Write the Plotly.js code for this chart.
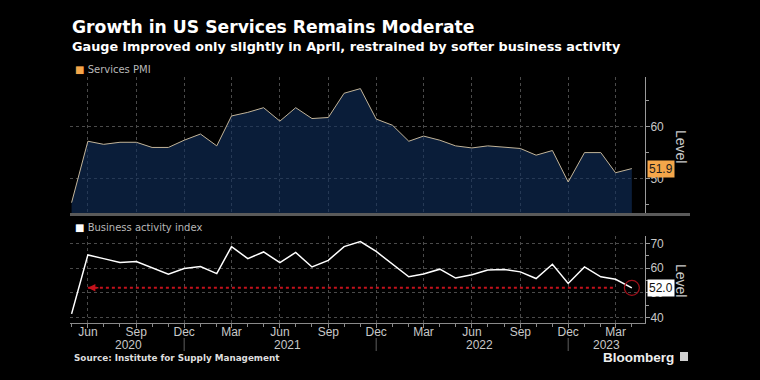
<!DOCTYPE html>
<html>
<head>
<meta charset="utf-8">
<script src="https://cdn.plot.ly/plotly-3.0.1.min.js"></script>
<style>
html,body{margin:0;padding:0;background:#000;}
#chart{width:760px;height:380px;}
</style>
</head>
<body>
<div id="chart"></div>
<script>
// ---- data ----
const months = [
  '2020-05-01','2020-06-01','2020-07-01','2020-08-01','2020-09-01','2020-10-01','2020-11-01','2020-12-01',
  '2021-01-01','2021-02-01','2021-03-01','2021-04-01','2021-05-01','2021-06-01','2021-07-01','2021-08-01',
  '2021-09-01','2021-10-01','2021-11-01','2021-12-01',
  '2022-01-01','2022-02-01','2022-03-01','2022-04-01','2022-05-01','2022-06-01','2022-07-01','2022-08-01',
  '2022-09-01','2022-10-01','2022-11-01','2022-12-01',
  '2023-01-01','2023-02-01','2023-03-01','2023-04-01'
];
const servicesPMI = [
  45.3, 57.2, 56.6, 57.0, 57.0, 56.0, 56.0, 57.4,
  58.6, 56.3, 62.1, 62.8, 63.7, 61.1, 63.7, 61.6, 61.8, 66.5, 67.4, 61.5,
  60.3, 57.2, 58.2, 57.4, 56.3, 55.9, 56.3, 56.0, 55.8, 54.5, 55.4, 49.3,
  55.0, 55.0, 51.1, 51.9
];
const businessActivity = [
  41.4, 65.4, 63.9, 62.3, 62.7, 60.3, 57.6, 59.9,
  60.7, 57.8, 68.8, 63.9, 66.6, 62.3, 66.4, 60.5, 63.2, 68.8, 70.8, 66.8,
  61.6, 56.5, 57.6, 59.6, 56.0, 57.3, 59.3, 59.5, 58.5, 55.8, 61.6, 53.8,
  60.5, 56.5, 55.5, 52.0
];
const yearLabels = ['2020','2021','2022','2023'];
const yearMids = ['2020-08-17','2021-06-16','2022-06-16','2023-02-12'];
const yearBreaks = ['2020-12-01','2021-12-01','2022-12-01'];
const seriesNames = ['Services PMI','Business activity index'];

// ---- layout helpers (pixel geometry) ----
const W = 760, H = 380, L = 70, R = 115, T = 77, B = 57;
const PH = H - T - B, PW = W - L - R;
const py = p => (H - B - p) / PH;      // pixel y -> paper y
const px = p => (p - L) / PW;          // pixel x -> paper x

const lastPMI = servicesPMI[servicesPMI.length - 1];
const lastBA = businessActivity[businessActivity.length - 1];
const n = months.length;

const grid = '#4a4a4a';
const tickFont = {family: 'Liberation Sans, Arial, sans-serif', size: 12, color: '#c8c8c8'};

const traces = [
  { // Services PMI area (top)
    x: months, y: servicesPMI, xaxis: 'x2', yaxis: 'y2', type: 'scatter', mode: 'lines',
    fill: 'tozeroy', fillcolor: 'rgba(16,46,92,0.62)',
    line: {color: '#c2b499', width: 1}, hoverinfo: 'skip', showlegend: false
  },
  { // Business activity (bottom)
    x: months, y: businessActivity, xaxis: 'x', yaxis: 'y', type: 'scatter', mode: 'lines',
    line: {color: '#ffffff', width: 1.5}, hoverinfo: 'skip', showlegend: false
  },
  { // red dotted reference line at latest value
    x: [months[1], months[n - 2]], y: [lastBA, lastBA], xaxis: 'x', yaxis: 'y',
    type: 'scatter', mode: 'lines', line: {color: '#c4121c', width: 2, dash: 'dot'},
    hoverinfo: 'skip', showlegend: false
  },
  { // circle on last point
    x: [months[n - 1]], y: [lastBA], xaxis: 'x', yaxis: 'y', type: 'scatter', mode: 'markers',
    marker: {symbol: 'circle-open', size: 15, color: '#a0101a', line: {width: 1.2, color: '#a0101a'}},
    hoverinfo: 'skip', showlegend: false
  }
];

const xRange = ['2020-04-28', '2023-04-26'];
const xCommon = {
  type: 'date', range: xRange, tick0: '2020-06-01', dtick: 'M3', tickformat: '%b',
  showgrid: true, gridcolor: grid, griddash: 'dot', gridwidth: 1, zeroline: false,
  tickfont: tickFont, fixedrange: true
};

const layout = {
  width: W, height: H,
  margin: {l: L, r: R, t: T, b: B},
  paper_bgcolor: '#000', plot_bgcolor: '#000',
  showlegend: false,
  xaxis: Object.assign({}, xCommon, {
    anchor: 'y', showline: true, linecolor: '#8a8a8a', linewidth: 1,
    ticks: 'outside', ticklen: 4, tickcolor: '#8a8a8a', ticklabelstandoff: -6,
    minor: {dtick: 'M1', ticks: 'outside', ticklen: 3, tickcolor: '#8a8a8a', showgrid: false}
  }),
  xaxis2: Object.assign({}, xCommon, {
    anchor: 'y2', matches: 'x', showticklabels: false, ticks: '', showline: false
  }),
  yaxis: {
    domain: [0, py(236)], range: [37.7, 73.1], side: 'right', dtick: 10, tick0: 0,
    showgrid: true, gridcolor: grid, griddash: 'dot', zeroline: false,
    showline: true, linecolor: '#9a9a9a', ticks: 'outside', ticklen: 4, tickcolor: '#9a9a9a',
    ticklabelstandoff: -2,
    minor: {dtick: 5, ticks: 'outside', ticklen: 3, tickcolor: '#9a9a9a', showgrid: false},
    tickfont: tickFont, fixedrange: true
  },
  yaxis2: {
    domain: [py(214), 1], range: [43.1, 69.65], side: 'right', dtick: 10, tick0: 0,
    showgrid: true, gridcolor: grid, griddash: 'dot', zeroline: false,
    showline: true, linecolor: '#9a9a9a', ticks: 'outside', ticklen: 4, tickcolor: '#9a9a9a',
    ticklabelstandoff: -2,
    minor: {dtick: 5, ticks: 'outside', ticklen: 3, tickcolor: '#9a9a9a', showgrid: false},
    tickfont: tickFont, fixedrange: true
  },
  shapes: [
    // separator line under top panel
    {type: 'line', xref: 'paper', yref: 'paper', x0: 0, x1: px(690), y0: py(214.5), y1: py(214.5),
     line: {color: '#5a5a5a', width: 3}},
    // Bloomberg logo square
    {type: 'rect', xref: 'paper', yref: 'paper', x0: px(680), x1: px(688), y0: py(361), y1: py(352),
     fillcolor: '#d0d0d0', line: {width: 0}}
  ].concat(yearBreaks.map(d => ({
    type: 'line', xref: 'x', yref: 'paper', x0: d, x1: d, y0: py(338), y1: py(351),
    line: {color: '#5e5e5e', width: 1}
  }))),
  annotations: [
    {xref: 'paper', yref: 'paper', x: px(70), y: py(27), xanchor: 'left', yanchor: 'middle', showarrow: false,
     text: '<b>Growth in US Services Remains Moderate</b>',
     font: {family: 'DejaVu Sans, Verdana, sans-serif', size: 17.2, color: '#ffffff'}},
    {xref: 'paper', yref: 'paper', x: px(70), y: py(46), xanchor: 'left', yanchor: 'middle', showarrow: false,
     text: '<b>Gauge improved only slightly in April, restrained by softer business activity</b>',
     font: {family: 'DejaVu Sans, Verdana, sans-serif', size: 12.8, color: '#ffffff'}},
    {xref: 'paper', yref: 'paper', x: px(73), y: py(69), xanchor: 'left', yanchor: 'middle', showarrow: false,
     text: '<span style="color:#f4a64a">■</span> ' + seriesNames[0],
     font: {family: 'DejaVu Sans, Verdana, sans-serif', size: 10, color: '#b8b8b8'}},
    {xref: 'paper', yref: 'paper', x: px(73), y: py(227), xanchor: 'left', yanchor: 'middle', showarrow: false,
     text: '<span style="color:#ffffff">■</span> ' + seriesNames[1],
     font: {family: 'DejaVu Sans, Verdana, sans-serif', size: 10, color: '#b8b8b8'}},
    // Level titles
    {xref: 'paper', yref: 'paper', x: px(681), y: py(146), xanchor: 'center', yanchor: 'middle', showarrow: false,
     text: 'Level', textangle: 90, font: {family: 'Liberation Sans, Arial, sans-serif', size: 14, color: '#c8c8c8'}},
    {xref: 'paper', yref: 'paper', x: px(681), y: py(280), xanchor: 'center', yanchor: 'middle', showarrow: false,
     text: 'Level', textangle: 90, font: {family: 'Liberation Sans, Arial, sans-serif', size: 14, color: '#c8c8c8'}},
    // last value labels
    {xref: 'paper', yref: 'y2', x: 1, y: lastPMI, xanchor: 'left', yanchor: 'middle', xshift: 2, showarrow: false,
     text: lastPMI.toFixed(1), bgcolor: '#f4a64a', borderpad: 1,
     font: {family: 'Liberation Sans, Arial, sans-serif', size: 12, color: '#1a1a1a'}},
    {xref: 'paper', yref: 'y', x: 1, y: lastBA, xanchor: 'left', yanchor: 'middle', xshift: 2, showarrow: false,
     text: lastBA.toFixed(1), bgcolor: '#ffffff', borderpad: 1,
     font: {family: 'Liberation Sans, Arial, sans-serif', size: 12, color: '#111111'}},
    // red arrow head
    {xref: 'x', yref: 'y', x: months[1], y: lastBA, ax: 12, ay: 0, showarrow: true, text: '',
     arrowhead: 2, arrowsize: 1, arrowwidth: 1.5, arrowcolor: '#c4121c'},
    // source + brand
    {xref: 'paper', yref: 'paper', x: px(72), y: py(358), xanchor: 'left', yanchor: 'middle', showarrow: false,
     text: '<b>Source: Institute for Supply Management</b>',
     font: {family: 'DejaVu Sans, Verdana, sans-serif', size: 8.8, color: '#dddddd'}},
    {xref: 'paper', yref: 'paper', x: px(676), y: py(357), xanchor: 'right', yanchor: 'middle', showarrow: false,
     text: '<b>Bloomberg</b>',
     font: {family: 'Liberation Sans, Arial, sans-serif', size: 13.5, color: '#eeeeee'}}
  ].concat(yearLabels.map((t, i) => ({
    xref: 'x', yref: 'paper', x: yearMids[i], y: py(345), xanchor: 'center', yanchor: 'middle',
    showarrow: false, text: t, font: tickFont
  })))
};

Plotly.newPlot('chart', traces, layout, {displayModeBar: false, staticPlot: true});
</script>
</body>
</html>
